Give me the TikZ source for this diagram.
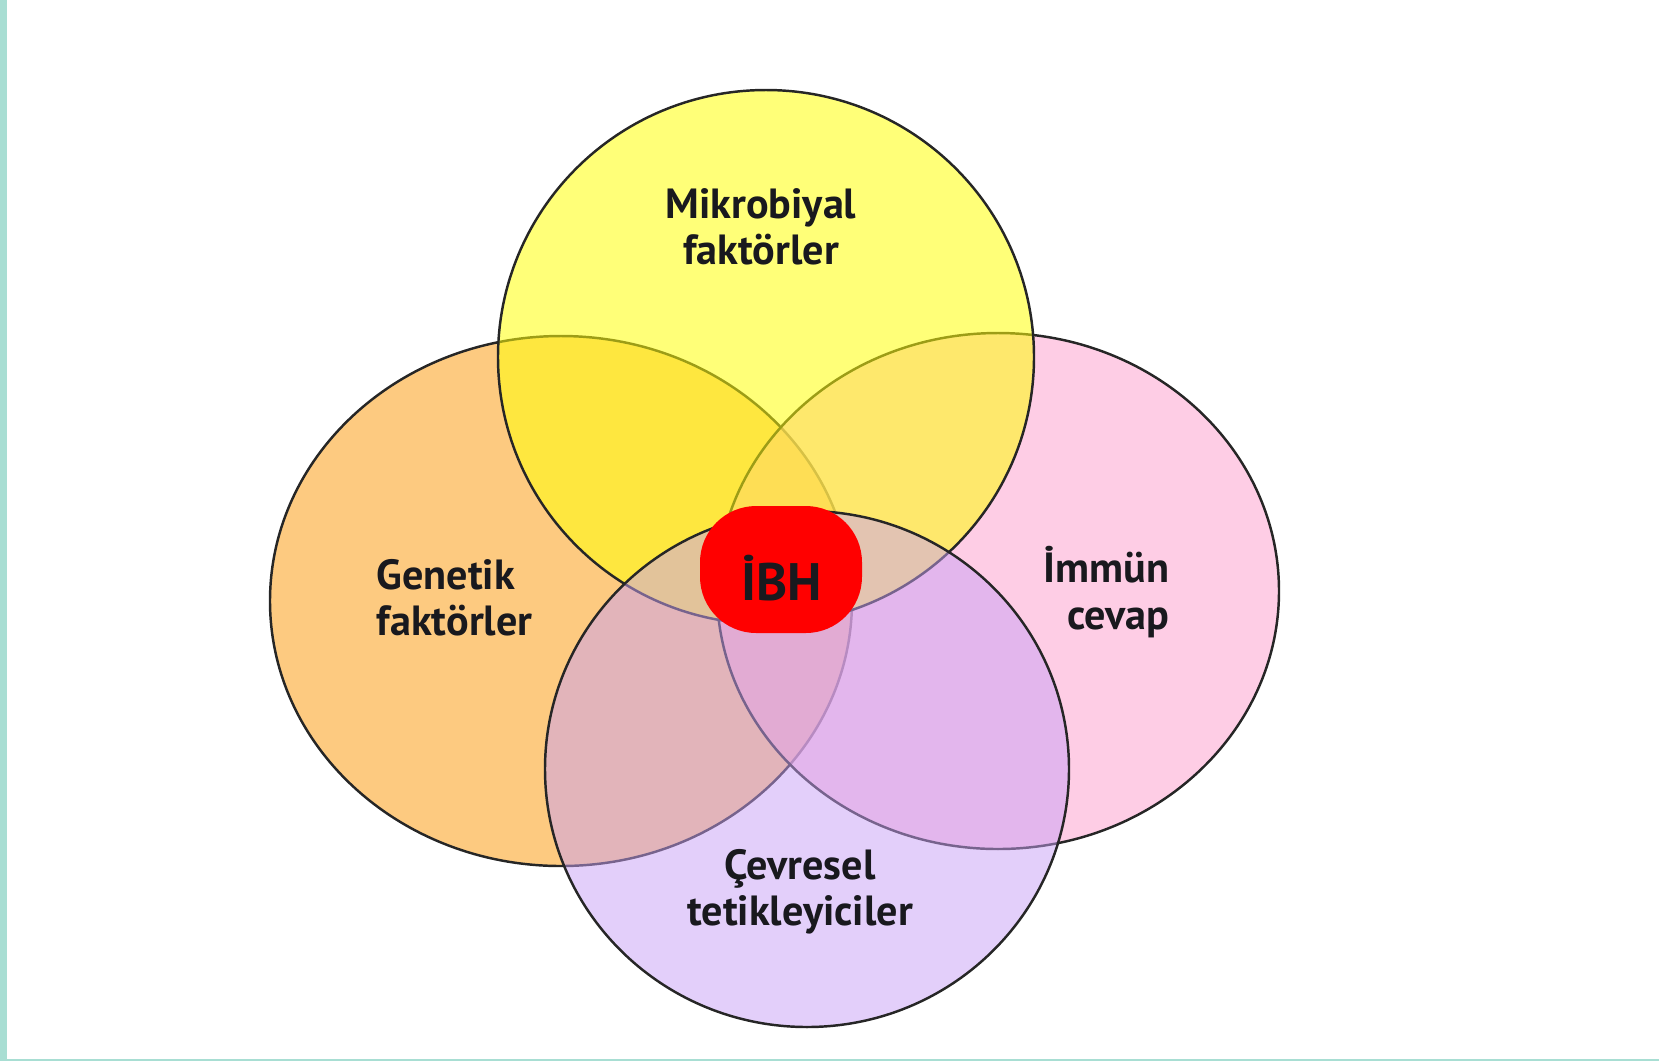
\documentclass[tikz,border=0pt]{standalone}
\usepackage{fontspec}
\setmainfont{PT Sans}
\definecolor{kenar}{RGB}{168,222,211}
\definecolor{genetikrenk}{RGB}{253,202,128}
\definecolor{immunrenk}{RGB}{254,172,212}
\definecolor{mikrorenk}{RGB}{255,255,10}
\definecolor{cevrerenk}{RGB}{200,160,245}
\definecolor{yazi}{RGB}{25,25,30}

\begin{document}
\begin{tikzpicture}[x=1cm, y=-1cm,
  venn/.style={draw=black!85, line width=.7pt},
  etiket/.style={align=center, inner sep=0pt, text=yazi, font=\bfseries\fontsize{12}{13.2}\selectfont}]
\useasboundingbox (0,0) rectangle (16.59,10.61);
\fill[kenar] (0,0) rectangle (0.07,10.61);
\fill[kenar] (0,10.59) rectangle (16.59,10.61);

\filldraw[venn, fill=genetikrenk] (5.61,6.01) ellipse [x radius=2.91, y radius=2.65];
\filldraw[venn, fill=immunrenk, fill opacity=.6] (9.98,5.91) ellipse [x radius=2.81, y radius=2.58];
\filldraw[venn, fill=mikrorenk, fill opacity=.55] (7.66,3.57) ellipse [x radius=2.68, y radius=2.67];
\filldraw[venn, fill=cevrerenk, fill opacity=.5] (8.07,7.69) ellipse [x radius=2.62, y radius=2.58];

\fill[red, rounded corners=16pt] (7.00,5.06) rectangle (8.62,6.33);

\node[etiket] (mikro) at (7.61,2.27) {Mikrobiyal\\faktörler};
\node[etiket, align=left, anchor=west] (genetik) at (3.76,5.98) {Genetik\\faktörler};
\node[etiket, align=right, anchor=east] (immun) at (11.70,5.92) {İmmün\\cevap};
\node[etiket] (cevre) at (8.00,8.92) {Çevresel\\tetikleyiciler};
\node[etiket, font=\bfseries\fontsize{15}{18}\selectfont] (ibh) at (7.82,5.78) {İBH};
\end{tikzpicture}
\end{document}
